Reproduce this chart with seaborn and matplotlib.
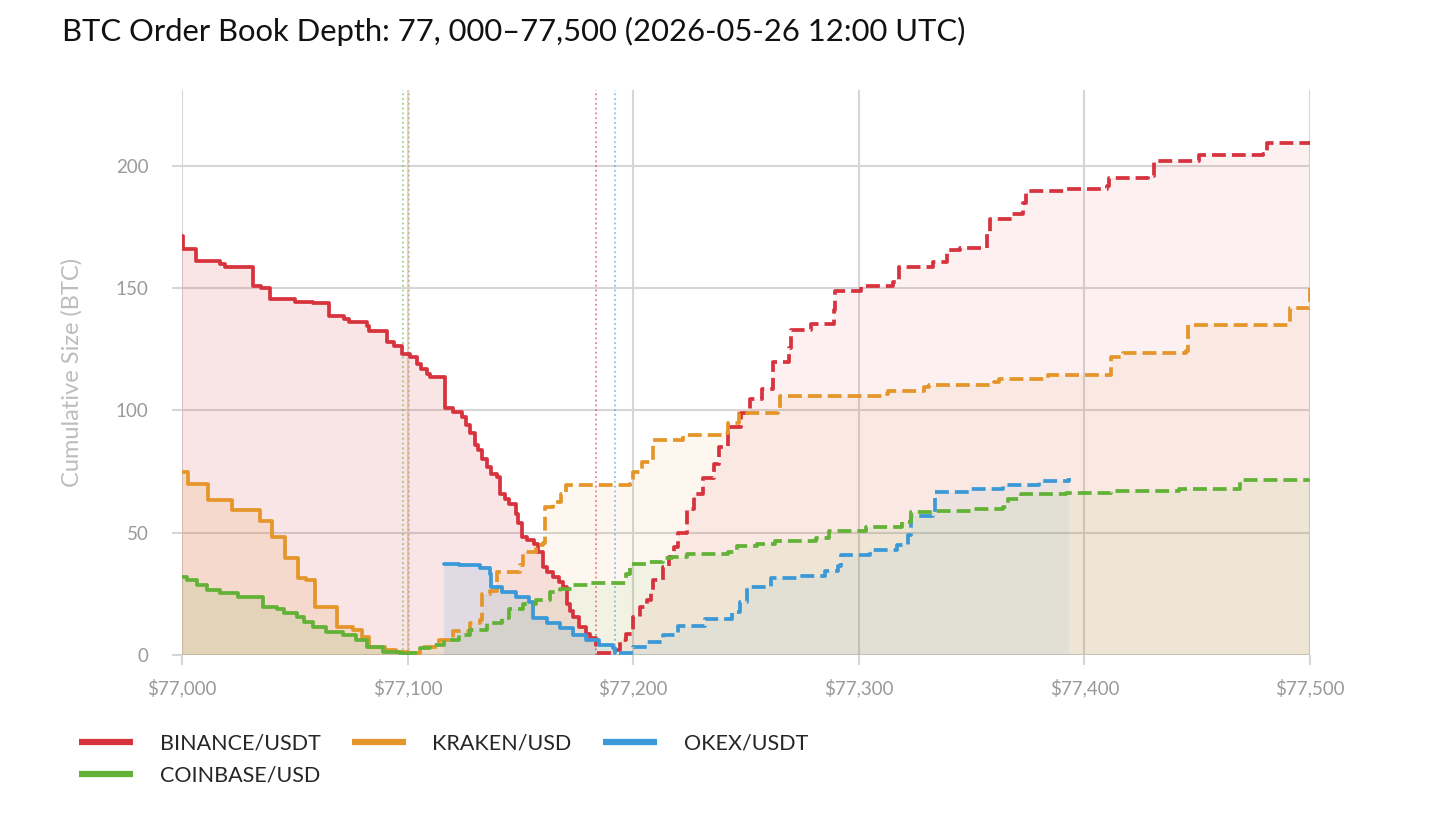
import matplotlib
matplotlib.use("Agg")
import matplotlib.pyplot as plt
import seaborn as sns
import numpy as np
from matplotlib.lines import Line2D
from matplotlib.ticker import FuncFormatter

# ---------------- data ----------------
binance_bid_price = [77000, 77000.5, 77006, 77017, 77019, 77031.5, 77035, 77039, 77050, 77058,
                     77065, 77072, 77074, 77082, 77083, 77091, 77094, 77097.5, 77101, 77104,
                     77106, 77108.5, 77110, 77116.5, 77120, 77124, 77126, 77127.6, 77130, 77131,
                     77133, 77135, 77137, 77139.5, 77141, 77143, 77145, 77148, 77149, 77150.6,
                     77153, 77156, 77158, 77160, 77162, 77164.6, 77167, 77169, 77170.5, 77172,
                     77173.5, 77176, 77179, 77181, 77183.5]
binance_bid_size = [171.4, 166, 161, 160, 158.5, 151, 150, 145.6, 144.5, 144,
                    138.8, 137.4, 136, 134.7, 132.6, 128, 126.5, 123, 121.8, 119,
                    117, 115, 113.6, 101, 99.5, 97.5, 94, 90.6, 86, 83.7,
                    80, 76.9, 74, 72.8, 66, 64, 61.9, 57.8, 54, 48.3,
                    47, 45.6, 42, 36, 34, 32, 30, 27.9, 21, 18,
                    15.6, 11.6, 8.8, 7, 4]

binance_ask_price = [77184, 77190, 77194, 77197, 77200, 77203, 77206, 77208, 77209, 77213,
                     77216, 77218, 77220, 77224, 77227, 77231, 77236, 77238, 77242, 77248,
                     77252, 77257, 77262, 77269, 77270, 77279, 77289, 77289.5, 77301, 77315,
                     77318, 77333, 77339, 77345, 77357, 77358, 77368, 77373, 77374, 77392,
                     77410, 77411, 77428, 77431, 77451, 77479, 77481, 77500]
binance_ask_size = [0.7, 2, 6.3, 8.8, 15.6, 19.7, 22.4, 26, 30.6, 36,
                    40, 44, 49.9, 59.7, 66, 72.3, 78, 85, 93.4, 99,
                    104.6, 108.8, 120, 125.7, 132.7, 135.5, 141, 148.9, 151, 152.4,
                    158.7, 160.8, 165.7, 166.4, 172, 178.4, 180.5, 184.7, 189.6, 190.6,
                    191.7, 195.2, 195.9, 202.2, 204.4, 205, 209.3, 210]

kraken_bid_price = [77000, 77002.8, 77011.7, 77022, 77034.6, 77039.8, 77045.6, 77051.6, 77055,
                    77059, 77068.6, 77076, 77080, 77083, 77090, 77095, 77100]
kraken_bid_size = [74.8, 70, 63.3, 59.2, 55, 48.3, 39.5, 31.3, 30.6,
                   19.7, 11.6, 10.2, 7.5, 3.4, 2, 1.4, 0.5]

kraken_ask_price = [77100.5, 77105.5, 77114, 77120, 77127.6, 77132, 77133, 77136.5, 77139.5,
                    77150, 77151, 77157, 77160, 77161, 77164.5, 77168, 77170, 77198.6, 77200,
                    77204, 77209, 77222, 77240, 77242, 77247, 77264, 77265, 77311, 77313,
                    77329, 77331, 77360, 77362, 77382, 77384, 77412, 77417, 77445, 77446,
                    77491, 77500]
kraken_ask_size = [0.8, 3.4, 6, 10, 13, 14.3, 25, 26, 34,
                   36.7, 42, 45, 45.7, 60.5, 62.6, 66, 69.4, 70, 75,
                   79, 87.8, 89.9, 90.6, 94.8, 99, 100.4, 106, 106.7, 108,
                   109.6, 110.5, 111.7, 112.8, 113.3, 114.5, 122, 123.3, 124.3, 134.8,
                   142, 150]

okex_bid_price = [77116, 77123, 77132, 77136.5, 77137, 77142, 77148, 77154, 77155.7, 77161.7,
                  77167.6, 77173.5, 77179, 77185, 77191, 77192]
okex_bid_size = [37.4, 36.7, 35.4, 33.3, 27.9, 25.8, 23.8, 21.8, 15, 12.9,
                 10.9, 8.2, 6.1, 4.1, 2.7, 0.7]

okex_ask_price = [77193.5, 77200, 77206, 77213, 77220, 77232, 77243.6, 77247.5, 77250.5, 77261,
                  77273, 77285, 77291, 77292, 77305, 77317, 77322, 77323, 77333, 77334,
                  77349, 77364, 77380, 77393]
okex_ask_size = [0.7, 3.4, 5.4, 8.2, 12, 14.7, 17.6, 21.8, 28, 31.6,
                 32.3, 34.4, 36.5, 40.7, 42.8, 45, 49, 56.9, 58.3, 66.7,
                 68, 69.5, 71.2, 72.3]

coinbase_bid_price = [77000, 77002, 77006.5, 77011, 77017, 77025, 77036, 77042, 77045, 77051,
                      77054, 77058, 77064, 77071.5, 77077, 77082, 77089, 77096.6, 77098]
coinbase_bid_size = [32, 30.6, 28.6, 26.5, 25.2, 23.8, 19.7, 19, 17, 15.6,
                     13.6, 11.6, 9.5, 8.2, 6.1, 3.4, 1.4, 0.7, 0.2]

coinbase_ask_price = [77098.5, 77100, 77105.5, 77110, 77116, 77123, 77127.6, 77135, 77142, 77145,
                      77151, 77157, 77163, 77167.6, 77173.5, 77180, 77197, 77198.6, 77206, 77213,
                      77217, 77224, 77242, 77246, 77255, 77263, 77281, 77287, 77303, 77319,
                      77323, 77333, 77350, 77364, 77366, 77372, 77392, 77412, 77442, 77469,
                      77500]
coinbase_ask_size = [0.5, 0.8, 2.7, 4, 6, 8.2, 10.2, 12.9, 15, 19,
                     21, 22.4, 25.8, 27.2, 28.6, 29.3, 33.3, 37.4, 38, 39.5,
                     40, 41.4, 42, 44.5, 45.6, 46.8, 47.8, 50.8, 52.2, 54.4,
                     58.3, 59, 59.7, 60.4, 63.9, 66, 66.4, 67, 67.8, 71.6,
                     71.9]

exchanges = ["BINANCE/USDT", "KRAKEN/USD", "OKEX/USDT", "COINBASE/USD"]
mid_prices = [77183.5, 77100.6, 77192, 77098]
x_ticks = [77000, 77100, 77200, 77300, 77400, 77500]
y_ticks = [0, 50, 100, 150, 200]
title = "BTC Order Book Depth: 77, 000\u201377,500 (2026-05-26 12:00 UTC)"

# ---------------- style ----------------
colors = {"BINANCE/USDT": "#d7333f", "KRAKEN/USD": "#e5962a",
          "OKEX/USDT": "#3b99d8", "COINBASE/USD": "#62b237"}

sns.set_theme(style="whitegrid")
plt.rcParams["font.family"] = ["Lato", "DejaVu Sans"]

fig = plt.figure(figsize=(14.56, 8.19), dpi=100)
ax = fig.add_axes([0.125, 0.2002, 0.7747, 0.6898])

series = {
    "BINANCE/USDT": (binance_bid_price, binance_bid_size, binance_ask_price, binance_ask_size),
    "KRAKEN/USD": (kraken_bid_price, kraken_bid_size, kraken_ask_price, kraken_ask_size),
    "OKEX/USDT": (okex_bid_price, okex_bid_size, okex_ask_price, okex_ask_size),
    "COINBASE/USD": (coinbase_bid_price, coinbase_bid_size, coinbase_ask_price, coinbase_ask_size),
}

# fills first
for name, (bp, bs, ap, as_) in series.items():
    c = colors[name]
    ax.fill_between(bp, bs, 0, step="post", color=c, alpha=0.13, linewidth=0, zorder=1)
    ax.fill_between(ap, as_, 0, step="post", color=c, alpha=0.07, linewidth=0, zorder=1)

for name, (bp, bs, ap, as_) in series.items():
    c = colors[name]
    sns.lineplot(x=bp, y=bs, ax=ax, color=c, linewidth=2.7, drawstyle="steps-post",
                 estimator=None, sort=False, zorder=3)
    sns.lineplot(x=ap, y=as_, ax=ax, color=c, linewidth=2.7, drawstyle="steps-post",
                 linestyle="--", estimator=None, sort=False, zorder=3)

for name, m in zip(exchanges, mid_prices):
    ax.axvline(m, color=colors[name], linestyle=":", linewidth=1.3, alpha=0.6, zorder=2)

ax.set_xlim(77000, 77500)
ax.set_ylim(0, 231)
ax.set_xticks(x_ticks)
ax.set_yticks(y_ticks)
ax.xaxis.set_major_formatter(FuncFormatter(lambda v, p: f"${v:,.0f}"))
ax.grid(True, color="#d6d6d6", linewidth=1.5)
for s in ax.spines.values():
    s.set_visible(False)
ax.tick_params(axis="both", which="both", length=7, width=1.5, color="#d6d6d6",
               labelcolor="#9a9a9a", labelsize=13.5, bottom=True, left=True)
ax.tick_params(axis="x", pad=10)
ax.tick_params(axis="y", pad=17)
ax.set_xlabel("")
ax.set_ylabel("Cumulative Size (BTC)", color="#bdbdbd", fontsize=17, labelpad=24)

fig.text(0.0426, 0.961, title, fontsize=22.3, color="#111111", va="center", ha="left")

order = ["BINANCE/USDT", "COINBASE/USD", "KRAKEN/USD", "OKEX/USDT"]
handles = [Line2D([0], [0], color=colors[n], linewidth=4.5, solid_capstyle="butt") for n in order]
fig.legend(handles, order, loc="upper left", bbox_to_anchor=(0.041, 0.128), ncol=3,
           frameon=False, fontsize=15.5, handlelength=2.5, handletextpad=1.25,
           columnspacing=1.45, labelspacing=0.55)

fig.savefig("out.png", dpi=100)
